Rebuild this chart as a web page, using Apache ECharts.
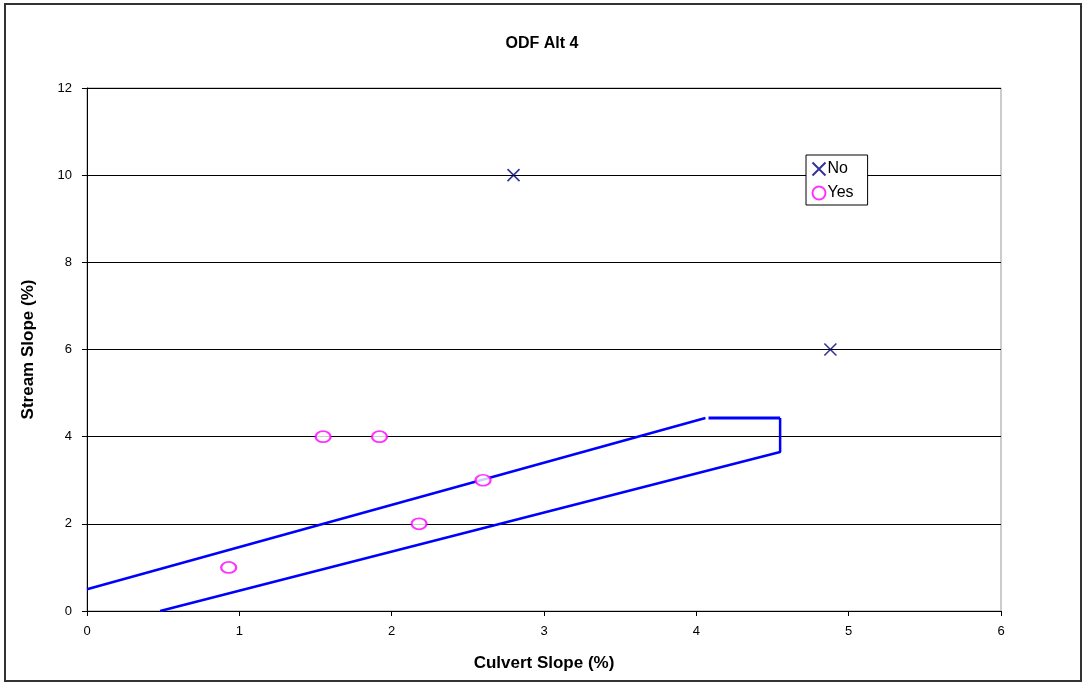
<!DOCTYPE html>
<html>
<head>
<meta charset="utf-8">
<script src="https://cdn.jsdelivr.net/npm/echarts@6/dist/echarts.min.js"></script>
<style>
  html, body { margin: 0; padding: 0; background: #fff; }
  #main { width: 1084px; height: 684px; }
</style>
</head>
<body>
<div id="main"></div>
<script>
// scatter points
let noX = [2.8, 4.88];
let noY = [10, 6];
let yesX = [0.93, 1.55, 1.92, 2.6, 2.18];
let yesY = [1, 4, 4, 3, 2];

// boundary lines (the blue envelope)
let upperLine = [[0, 0.5], [4.06, 4.43]];
let capLine = [[4.08, 4.43], [4.55, 4.43]];
let lowerLine = [[4.55, 4.43], [4.55, 3.65], [0.48, 0]];

function pairs(xs, ys) {
  return xs.map((x, i) => [x, ys[i]]);
}

let font = "Liberation Sans, Arial";
let lineStyleBlue = { color: "#0000FF", width: 2.5 };

let options = {
  animation: false,
  backgroundColor: "#fff",
  title: {
    text: "ODF Alt 4",
    left: "center",
    top: 31,
    textStyle: { fontFamily: font, fontWeight: "bold", fontSize: 16, color: "#000" },
  },
  graphic: [
    {
      type: "rect",
      shape: { x: 5, y: 4, width: 1076, height: 677 },
      style: { fill: "none", stroke: "#333", lineWidth: 2 },
      silent: true,
    },
  ],
  legend: {
    orient: "vertical",
    left: 806,
    top: 155,
    data: ["No", "Yes"],
    backgroundColor: "#fff",
    borderColor: "#000",
    borderWidth: 1,
    padding: [5, 14, 4, 4],
    itemGap: 7,
    itemWidth: 15,
    itemHeight: 13,
    textStyle: { fontFamily: font, fontSize: 16, color: "#000", padding: [0, 0, 0, -4] },
  },
  grid: { left: 87, right: 83, top: 88, bottom: 73, show: true, borderColor: "#999", borderWidth: 1 },
  xAxis: {
    type: "value",
    min: 0,
    max: 6,
    interval: 1,
    name: "Culvert Slope (%)",
    nameLocation: "middle",
    nameGap: 44,
    nameTextStyle: { fontFamily: font, fontWeight: "bold", fontSize: 17, color: "#000" },
    axisLine: { lineStyle: { color: "#000", width: 1 } },
    axisTick: { show: true, length: 5, lineStyle: { color: "#000" } },
    axisLabel: { fontFamily: font, fontSize: 13, color: "#000", margin: 14 },
    splitLine: { show: false },
  },
  yAxis: {
    type: "value",
    min: 0,
    max: 12,
    interval: 2,
    name: "Stream Slope (%)",
    nameLocation: "middle",
    nameGap: 50,
    nameTextStyle: { fontFamily: font, fontWeight: "bold", fontSize: 17, color: "#000" },
    axisLine: { lineStyle: { color: "#000", width: 1 } },
    axisTick: { show: true, length: 5, lineStyle: { color: "#000" } },
    axisLabel: { fontFamily: font, fontSize: 13, color: "#000", margin: 15 },
    splitLine: { show: true, lineStyle: { color: "#000", width: 1 } },
  },
  series: [
    {
      name: "upper",
      type: "line",
      data: upperLine,
      symbol: "none",
      lineStyle: lineStyleBlue,
      z: 2,
    },
    {
      name: "cap",
      type: "line",
      data: capLine,
      symbol: "none",
      lineStyle: { color: "#0000FF", width: 3 },
      z: 2,
    },
    {
      name: "lower",
      type: "line",
      data: lowerLine,
      symbol: "none",
      lineStyle: lineStyleBlue,
      z: 2,
    },
    {
      name: "No",
      type: "scatter",
      data: pairs(noX, noY),
      symbol: "path://M0,0L10,10M10,0L0,10",
      symbolSize: 12,
      itemStyle: { color: "none", borderColor: "#00007A", borderWidth: 1.6 },
      z: 5,
    },
    {
      name: "Yes",
      type: "scatter",
      data: pairs(yesX, yesY),
      symbol: "emptyCircle",
      symbolSize: [15, 11],
      itemStyle: { color: "#FF00FF", borderColor: "#FF00FF", borderWidth: 1.3 },
      z: 5,
    },
  ],
};

let myChart = echarts.init(document.getElementById("main"));
myChart.setOption(options);
</script>
</body>
</html>
